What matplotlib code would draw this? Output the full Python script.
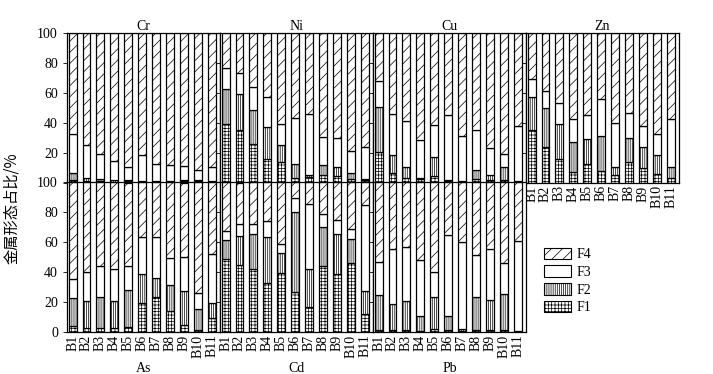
import numpy as np
import matplotlib
matplotlib.use("Agg")
import matplotlib.pyplot as plt
from matplotlib.patches import Patch

plt.rcParams['font.family'] = ['Liberation Serif', 'Noto Sans CJK SC']
plt.rcParams['hatch.linewidth'] = 0.5

sites = ["B1", "B2", "B3", "B4", "B5", "B6", "B7", "B8", "B9", "B10", "B11"]
fractions = ["F1", "F2", "F3", "F4"]

# 各元素 F1~F4 占比 (%)
cr_f1 = [1.5, 1.0, 0.8, 0.6, 0.8, 0.5, 0.5, 0.6, 0.7, 0.7, 0.4]
cr_f2 = [4.7, 2.1, 1.4, 0.9, 1.0, 0.5, 0.5, 0.6, 0.8, 0.8, 0.4]
cr_f3 = [26.4, 22.1, 17.2, 13.0, 8.9, 17.3, 11.3, 10.2, 9.7, 7.0, 9.5]
cr_f4 = [67.4, 74.8, 80.6, 85.5, 89.3, 81.7, 87.7, 88.6, 88.8, 91.5, 89.7]

ni_f1 = [39.1, 35.3, 25.7, 15.6, 13.8, 3.1, 3.5, 4.9, 4.5, 2.5, 1.5]
ni_f2 = [23.8, 23.9, 23.0, 21.9, 11.2, 9.4, 1.6, 6.9, 6.2, 3.7, 0.7]
ni_f3 = [13.7, 14.0, 15.1, 19.6, 14.5, 30.4, 40.7, 18.6, 19.4, 14.8, 21.7]
ni_f4 = [23.4, 26.8, 36.2, 42.9, 60.5, 57.1, 54.2, 69.6, 69.9, 79.0, 76.1]

cu_f1 = [20.5, 6.2, 2.9, 2.2, 4.5, 0.8, 0.6, 2.2, 1.5, 2.0, 0.6]
cu_f2 = [29.9, 12.5, 7.6, 0.9, 12.7, 0.7, 0.6, 6.1, 3.6, 8.5, 0.7]
cu_f3 = [17.9, 27.1, 30.8, 25.5, 21.2, 43.8, 30.1, 26.7, 18.3, 8.5, 36.6]
cu_f4 = [31.7, 54.2, 58.7, 71.4, 61.6, 54.7, 68.7, 65.0, 76.6, 81.0, 62.1]

zn_f1 = [35.5, 23.7, 15.8, 6.9, 12.1, 7.6, 4.9, 13.6, 9.4, 5.8, 2.9]
zn_f2 = [21.6, 26.1, 23.3, 20.1, 16.9, 23.4, 5.8, 16.1, 14.7, 12.3, 7.8]
zn_f3 = [12.5, 11.4, 14.2, 15.4, 16.1, 24.8, 29.0, 17.2, 13.8, 14.3, 31.9]
zn_f4 = [30.4, 38.8, 46.7, 57.6, 54.9, 44.2, 60.3, 53.1, 62.1, 67.6, 57.4]

as_f1 = [4.0, 2.2, 2.7, 2.2, 2.9, 19.2, 23.2, 13.6, 4.5, 1.1, 9.4]
as_f2 = [18.3, 18.6, 20.5, 18.6, 24.8, 19.2, 12.5, 17.4, 23.0, 13.9, 10.0]
as_f3 = [13.0, 19.4, 20.8, 21.2, 16.5, 24.8, 28.1, 18.6, 22.9, 10.7, 32.8]
as_f4 = [64.7, 59.8, 56.0, 58.0, 55.8, 36.8, 36.2, 50.4, 49.6, 74.3, 47.8]

cd_f1 = [48.4, 44.6, 42.2, 32.4, 39.5, 26.3, 16.7, 44.0, 38.4, 45.8, 11.6]
cd_f2 = [12.8, 19.5, 23.6, 31.2, 13.4, 53.6, 25.0, 26.1, 27.4, 16.3, 15.9]
cd_f3 = [6.2, 7.8, 6.5, 10.7, 6.0, 9.8, 44.2, 8.5, 9.4, 6.7, 57.3]
cd_f4 = [32.6, 28.1, 27.7, 25.7, 41.1, 10.3, 14.1, 21.4, 24.8, 31.2, 15.2]

pb_f1 = [1.1, 1.0, 1.0, 0.8, 1.6, 1.1, 0.8, 1.2, 1.2, 1.4, 0.5]
pb_f2 = [23.5, 17.8, 19.5, 9.5, 21.4, 9.6, 0.7, 22.2, 19.8, 23.6, 0.3]
pb_f3 = [21.8, 36.8, 36.6, 37.7, 17.2, 54.0, 58.5, 27.9, 34.4, 21.0, 59.9]
pb_f4 = [53.6, 44.4, 42.9, 52.0, 59.8, 35.3, 40.0, 48.7, 44.6, 54.0, 39.3]

elements = {
    "Cr": [cr_f1, cr_f2, cr_f3, cr_f4],
    "Ni": [ni_f1, ni_f2, ni_f3, ni_f4],
    "Cu": [cu_f1, cu_f2, cu_f3, cu_f4],
    "Zn": [zn_f1, zn_f2, zn_f3, zn_f4],
    "As": [as_f1, as_f2, as_f3, as_f4],
    "Cd": [cd_f1, cd_f2, cd_f3, cd_f4],
    "Pb": [pb_f1, pb_f2, pb_f3, pb_f4],
}

hatches = ["+++++", "||||||||", "", "///"]

W, H = 713, 374
fig = plt.figure(figsize=(W / 100, H / 100), dpi=100)

# 画布像素位置
lefts = [67, 220, 373, 526]
pw = 153
top_y0, top_y1 = 33.3, 182.5
bot_y0, bot_y1 = 182.5, 331.7


def add_panel(col, y0, y1):
    return fig.add_axes([lefts[col] / W, 1 - y1 / H, pw / W, (y1 - y0) / H])


x = np.arange(len(sites))
layout = [("Cr", 0, 0), ("Ni", 0, 1), ("Cu", 0, 2), ("Zn", 0, 3),
          ("As", 1, 0), ("Cd", 1, 1), ("Pb", 1, 2)]

for name, row, col in layout:
    if row == 0:
        ax = add_panel(col, top_y0, top_y1)
    else:
        ax = add_panel(col, bot_y0, bot_y1)
    bottom = np.zeros(len(sites))
    for vals, h in zip(elements[name], hatches):
        ax.bar(x, vals, width=0.57, bottom=bottom, color="white",
               edgecolor="black", linewidth=0.9, hatch=h)
        bottom += np.array(vals)
    ax.set_xlim(-0.4, 10.6)
    ax.set_ylim(0, 100)
    ax.set_yticks([0, 20, 40, 60, 80, 100])
    ax.tick_params(axis="y", direction="out", length=3, width=0.6, labelsize=10)
    for s in ax.spines.values():
        s.set_linewidth(0.9)
    if col == 0:
        if row == 0:
            ax.set_yticklabels(["", "20", "40", "60", "80", "100"])
    else:
        ax.set_yticklabels([])
    if row == 0 and name != "Zn":
        ax.set_xticks([])
    else:
        ax.set_xticks(x)
        ax.set_xticklabels(sites, rotation=90, fontsize=10)
        ax.tick_params(axis="x", length=0, pad=2)
    if row == 0:
        ax.set_title(name, fontsize=10, pad=2)
    else:
        ax.set_xlabel(name, fontsize=10, labelpad=3)

fig.text(12 / W, 1 - 208 / H, "金属形态占比/%", rotation=90, fontsize=11,
         ha="center", va="center", family=["Noto Sans CJK SC", "DejaVu Sans"])

handles = [Patch(facecolor="white", edgecolor="black", linewidth=0.8, hatch=h, label=f)
           for f, h in zip(fractions, hatches)]
fig.legend(handles=handles[::-1], loc="upper left", bbox_to_anchor=(538 / W, 1 - 242 / H),
           frameon=False, fontsize=10, handlelength=2.0, handleheight=0.9,
           labelspacing=0.3, handletextpad=0.4, borderaxespad=0)

fig.savefig("out.png", dpi=100)
